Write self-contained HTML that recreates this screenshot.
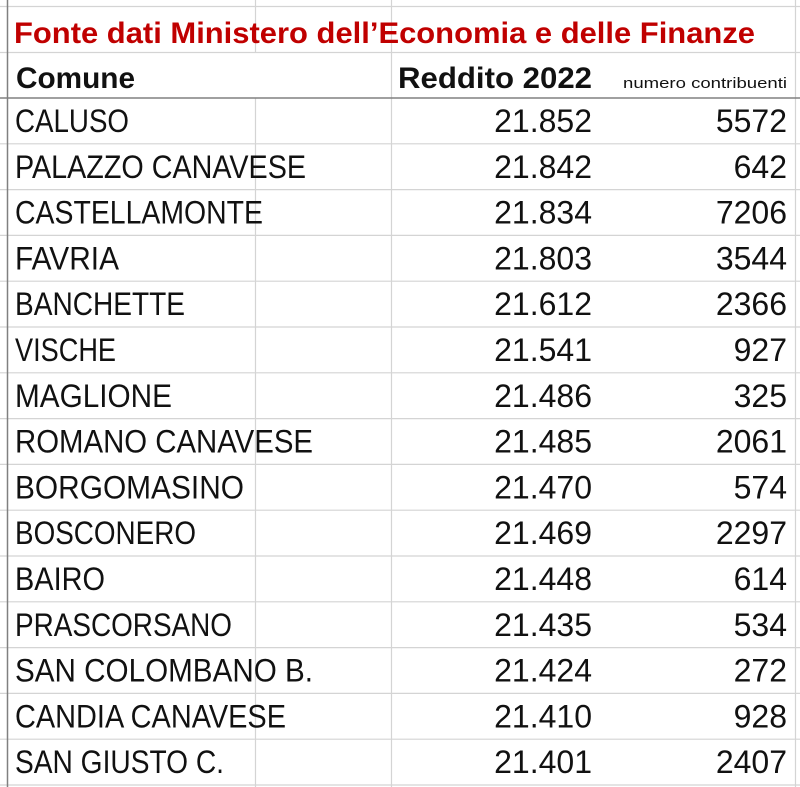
<!DOCTYPE html>
<html><head><meta charset="utf-8"><style>
html,body{margin:0;padding:0;background:#fff;}
svg{display:block;}
text{font-family:"Liberation Sans",Arial,sans-serif;fill:#111;}
</style></head><body>
<svg width="800" height="787" viewBox="0 0 800 787" xmlns="http://www.w3.org/2000/svg">
<g stroke="#d4d4d4" stroke-width="1.2">
<line x1="0" y1="6.5" x2="800" y2="6.5"/>
<line x1="0" y1="52.5" x2="800" y2="52.5"/>
<line x1="255.5" y1="0" x2="255.5" y2="52"/>
<line x1="391.5" y1="0" x2="391.5" y2="52"/>
<line x1="255.5" y1="98" x2="255.5" y2="787"/>
<line x1="391.5" y1="52" x2="391.5" y2="787"/>
<line x1="795.5" y1="0" x2="795.5" y2="787"/>
<line x1="0" y1="143.8" x2="800" y2="143.8"/>
<line x1="0" y1="189.6" x2="800" y2="189.6"/>
<line x1="0" y1="235.4" x2="800" y2="235.4"/>
<line x1="0" y1="281.2" x2="800" y2="281.2"/>
<line x1="0" y1="327" x2="800" y2="327"/>
<line x1="0" y1="372.8" x2="800" y2="372.8"/>
<line x1="0" y1="418.6" x2="800" y2="418.6"/>
<line x1="0" y1="464.4" x2="800" y2="464.4"/>
<line x1="0" y1="510.2" x2="800" y2="510.2"/>
<line x1="0" y1="556" x2="800" y2="556"/>
<line x1="0" y1="601.8" x2="800" y2="601.8"/>
<line x1="0" y1="647.6" x2="800" y2="647.6"/>
<line x1="0" y1="693.4" x2="800" y2="693.4"/>
<line x1="0" y1="739.2" x2="800" y2="739.2"/>
<line x1="0" y1="785" x2="800" y2="785"/>
</g>
<line x1="0" y1="98" x2="800" y2="98" stroke="#808080" stroke-width="1.5"/>
<line x1="7.5" y1="0" x2="7.5" y2="787" stroke="#808080" stroke-width="1.5"/>
<text x="14" y="43" font-size="30" font-weight="bold" style="fill:#c00000" textLength="741" lengthAdjust="spacingAndGlyphs">Fonte dati Ministero dell’Economia e delle Finanze</text>
<text x="16" y="88" font-size="30" font-weight="bold" textLength="119" lengthAdjust="spacingAndGlyphs">Comune</text>
<text x="398" y="88" font-size="30" font-weight="bold" textLength="194" lengthAdjust="spacingAndGlyphs">Reddito 2022</text>
<text x="623" y="88" font-size="15" textLength="164" lengthAdjust="spacingAndGlyphs">numero contribuenti</text>
<g font-size="32">
<text x="15" y="132" textLength="114" lengthAdjust="spacingAndGlyphs">CALUSO</text>
<text x="15" y="177.8" textLength="291" lengthAdjust="spacingAndGlyphs">PALAZZO CANAVESE</text>
<text x="15" y="223.6" textLength="248" lengthAdjust="spacingAndGlyphs">CASTELLAMONTE</text>
<text x="15" y="269.4" textLength="104" lengthAdjust="spacingAndGlyphs">FAVRIA</text>
<text x="15" y="315.2" textLength="170" lengthAdjust="spacingAndGlyphs">BANCHETTE</text>
<text x="15" y="361" textLength="101" lengthAdjust="spacingAndGlyphs">VISCHE</text>
<text x="15" y="406.8" textLength="157" lengthAdjust="spacingAndGlyphs">MAGLIONE</text>
<text x="15" y="452.6" textLength="298" lengthAdjust="spacingAndGlyphs">ROMANO CANAVESE</text>
<text x="15" y="498.4" textLength="229" lengthAdjust="spacingAndGlyphs">BORGOMASINO</text>
<text x="15" y="544.2" textLength="181" lengthAdjust="spacingAndGlyphs">BOSCONERO</text>
<text x="15" y="590" textLength="90" lengthAdjust="spacingAndGlyphs">BAIRO</text>
<text x="15" y="635.8" textLength="217" lengthAdjust="spacingAndGlyphs">PRASCORSANO</text>
<text x="15" y="681.6" textLength="298" lengthAdjust="spacingAndGlyphs">SAN COLOMBANO B.</text>
<text x="15" y="727.4" textLength="271" lengthAdjust="spacingAndGlyphs">CANDIA CANAVESE</text>
<text x="15" y="773.2" textLength="209" lengthAdjust="spacingAndGlyphs">SAN GIUSTO C.</text>
</g>
<g font-size="32" text-anchor="end">
<text x="592" y="132">21.852</text>
<text x="592" y="177.8">21.842</text>
<text x="592" y="223.6">21.834</text>
<text x="592" y="269.4">21.803</text>
<text x="592" y="315.2">21.612</text>
<text x="592" y="361">21.541</text>
<text x="592" y="406.8">21.486</text>
<text x="592" y="452.6">21.485</text>
<text x="592" y="498.4">21.470</text>
<text x="592" y="544.2">21.469</text>
<text x="592" y="590">21.448</text>
<text x="592" y="635.8">21.435</text>
<text x="592" y="681.6">21.424</text>
<text x="592" y="727.4">21.410</text>
<text x="592" y="773.2">21.401</text>
<text x="787" y="132">5572</text>
<text x="787" y="177.8">642</text>
<text x="787" y="223.6">7206</text>
<text x="787" y="269.4">3544</text>
<text x="787" y="315.2">2366</text>
<text x="787" y="361">927</text>
<text x="787" y="406.8">325</text>
<text x="787" y="452.6">2061</text>
<text x="787" y="498.4">574</text>
<text x="787" y="544.2">2297</text>
<text x="787" y="590">614</text>
<text x="787" y="635.8">534</text>
<text x="787" y="681.6">272</text>
<text x="787" y="727.4">928</text>
<text x="787" y="773.2">2407</text>
</g>
</svg>
</body></html>
